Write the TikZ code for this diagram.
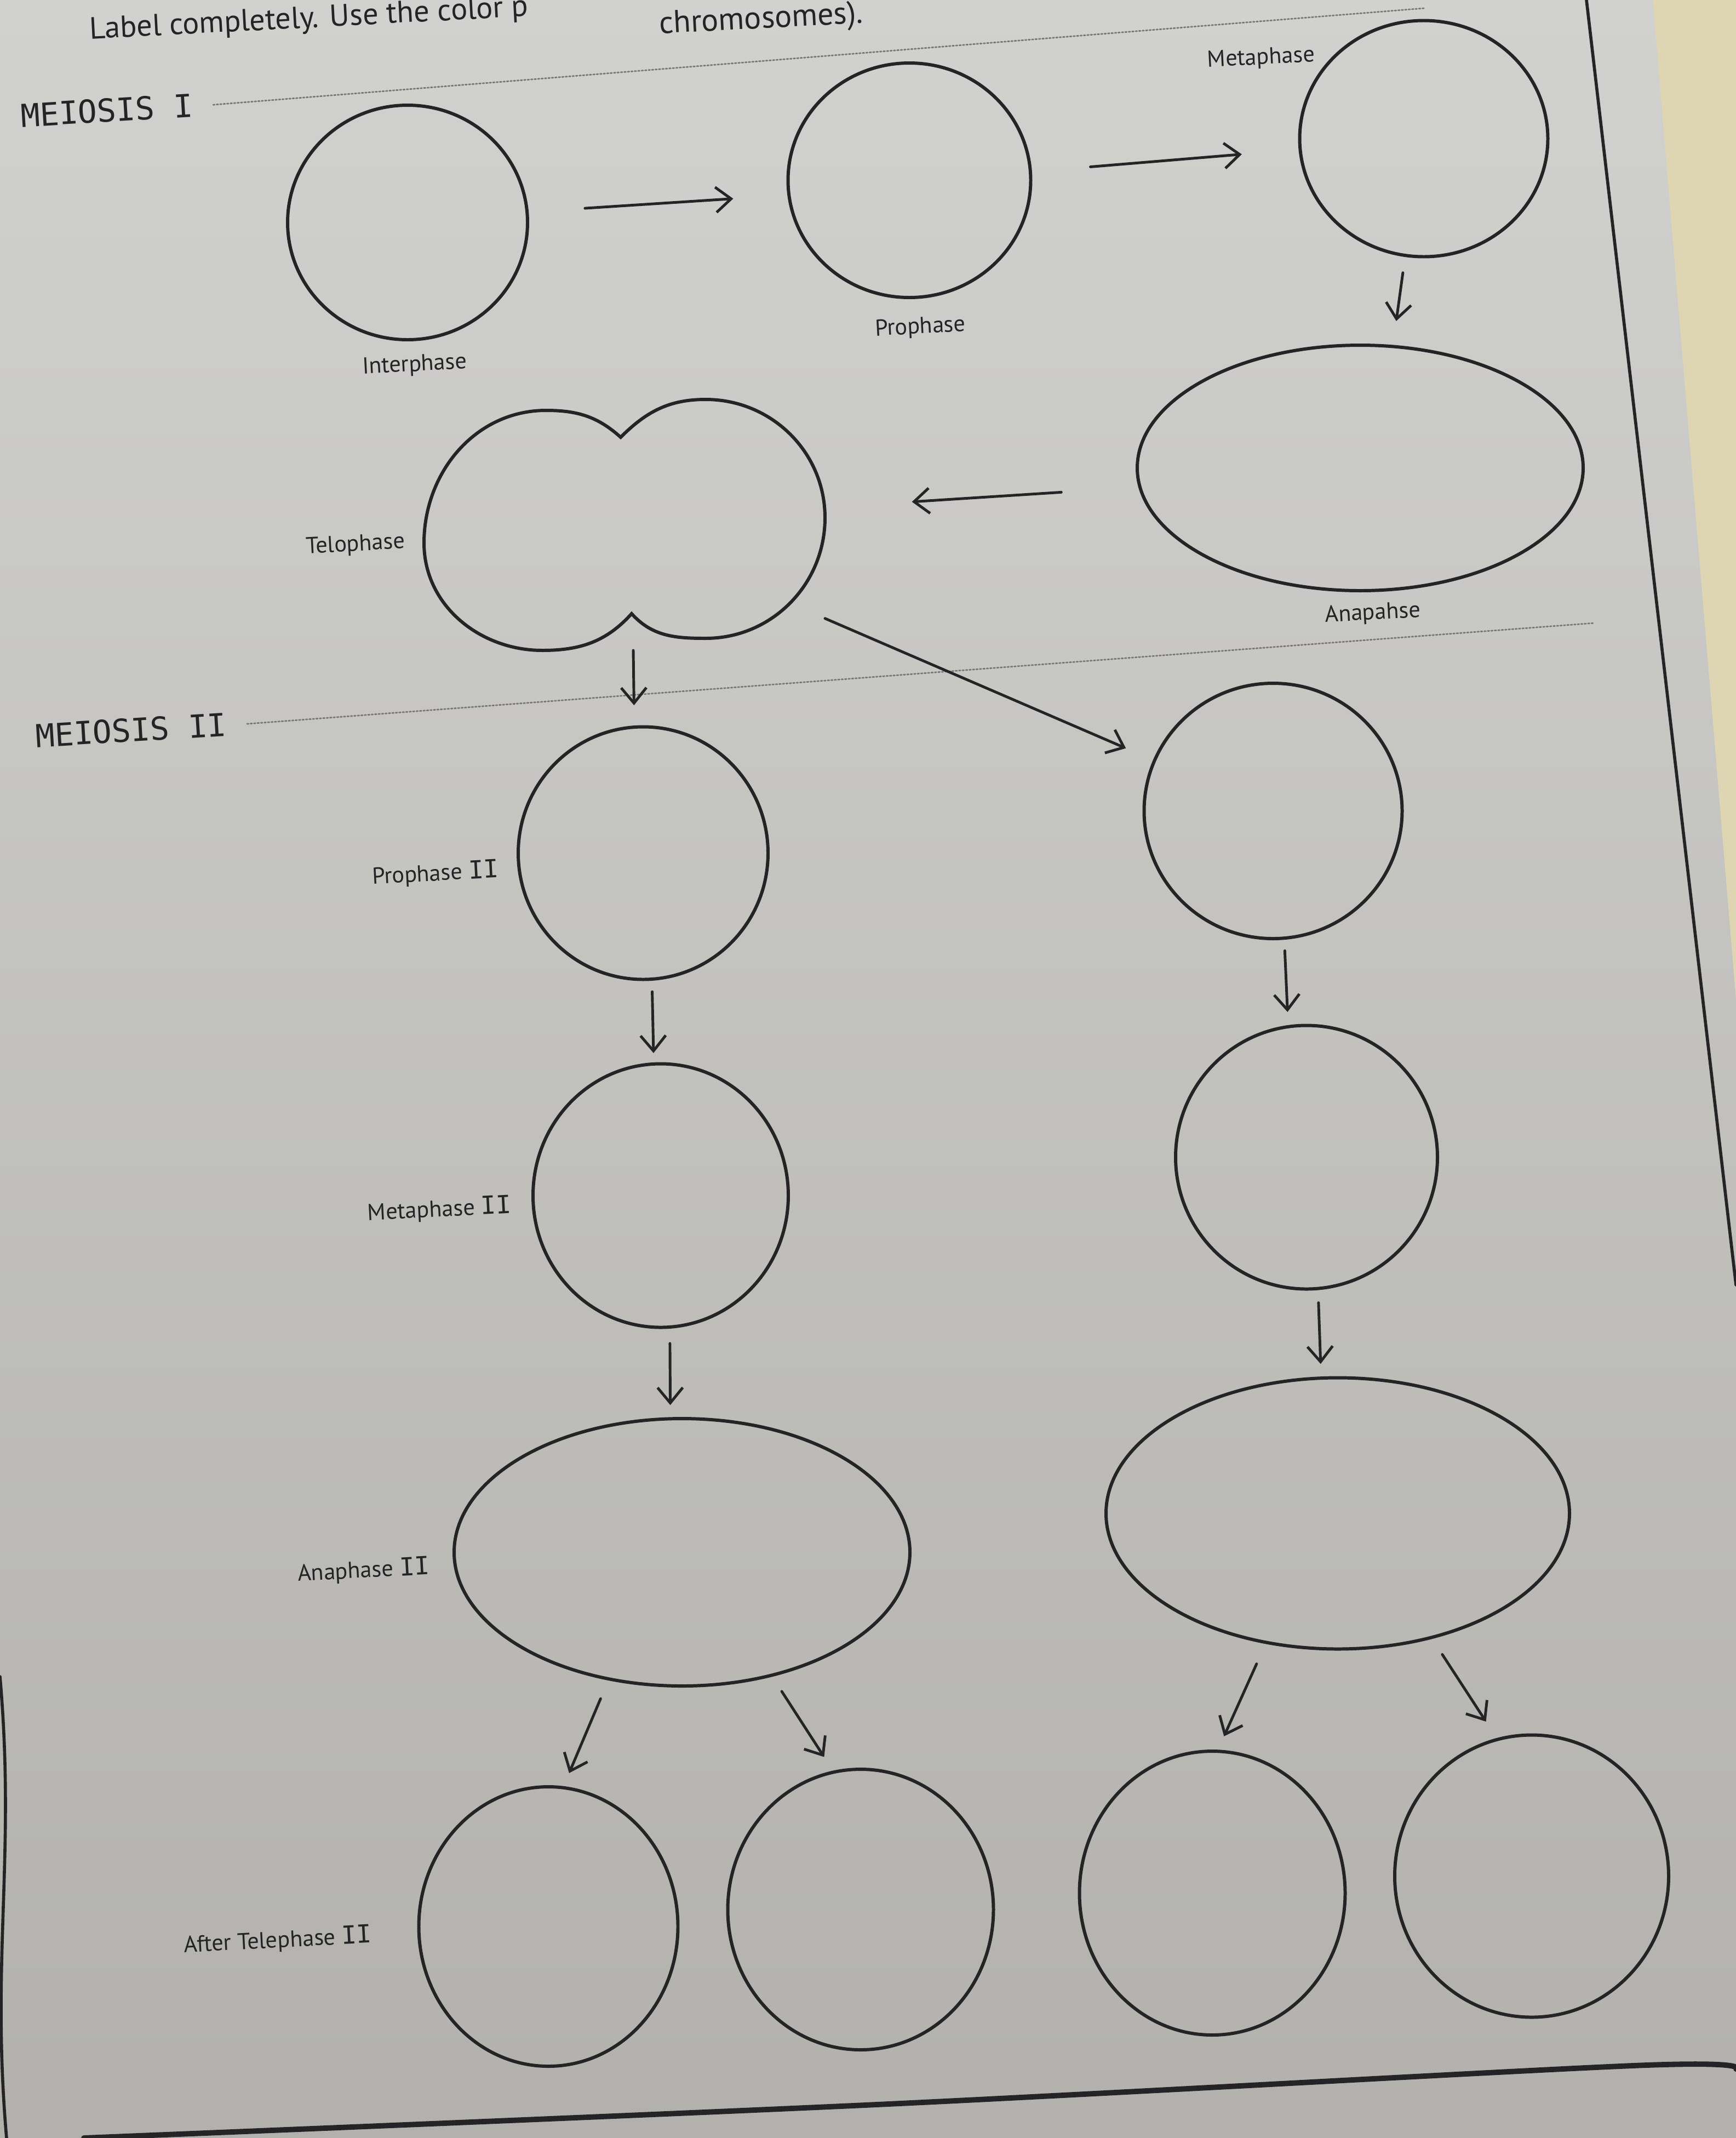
\documentclass[tikz,border=0pt]{standalone}
\usepackage{fontspec}
\setmainfont{PT Sans}
\newfontfamily\serifI{DejaVu Sans Mono}
\usetikzlibrary{shapes.geometric,arrows.meta}

\definecolor{papertop}{RGB}{209,209,207}
\definecolor{paperbot}{RGB}{178,177,173}
\definecolor{wall}{RGB}{222,213,178}
\definecolor{ink}{RGB}{36,36,38}
\definecolor{dots}{RGB}{120,120,118}

\newcommand{\two}{{\serifI\fontsize{13}{15}\selectfont II}}

\begin{document}
\begin{tikzpicture}[>={Straight Barb[length=2.8mm,width=4.6mm]}, line cap=round,
	cell/.style={ellipse, draw=ink, line width=1.7pt, inner sep=0pt, outer sep=0pt},
	hidden/.style={rectangle, inner sep=0pt, outer sep=0pt},
	arr/.style={->, draw=ink, line width=1.4pt},
	lbl/.style={text=ink, font=\fontsize{12}{14}\selectfont, rotate=3},
	head/.style={text=ink, font=\serifI\fontsize{16.5}{20}\selectfont, rotate=3.5},
	guide/.style={dots, line width=0.8pt, densely dotted}]
	\useasboundingbox (0,0) rectangle (31.69,-39.02);
	\clip (0,0) rectangle (31.69,-39.02);
	% paper, wall and page frame
	\shade[top color=papertop, bottom color=paperbot] (0,0) rectangle (31.69,-39.02);
	\fill[wall] (30.17,0) -- (31.69,0) -- (31.69,-18.24) -- cycle;
	\draw[ink, line width=1.6pt] (28.96,0) -- (31.69,-23.45);
	\draw[ink, line width=1.6pt] (0,-30.6) to[out=-85,in=95] (0.12,-39.02);
	\draw[ink, line width=2.8pt] plot[smooth] coordinates {(1.53,-39.02) (16.0,-38.41) (29.8,-37.70) (31.69,-37.76)};

	% instructions, cut off at the top of the photo
	\node[anchor=base west, text=ink, font=\fontsize{16}{19}\selectfont, rotate=3] (task) at (1.52,-0.72) {Label completely. Use the color p};
	\node[anchor=base west, text=ink, font=\fontsize{16.5}{19}\selectfont, rotate=3] (task2) at (11.92,-0.62) {chromosomes).};

	% meiosis I
	\node[head, anchor=base west] (m1) at (0.27,-2.33) {MEIOSIS I};
	\draw[guide] ([xshift=0.25cm]m1.east) -- (26.0,-0.15);
	\node[cell, minimum width=4.38cm, minimum height=4.28cm] (inter) at (7.44,-4.06) {};
	\node[cell, minimum width=4.43cm, minimum height=4.28cm] (pro) at (16.60,-3.29) {};
	\node[cell, minimum width=4.53cm, minimum height=4.31cm] (meta) at (25.99,-2.53) {};
	\node[cell, minimum width=8.14cm, minimum height=4.48cm] (ana) at (24.83,-8.54) {};
	\node[hidden, minimum width=7.32cm, minimum height=4.58cm] (telo) at (11.40,-9.58) {};
	\draw[ink, line width=1.7pt] (11.33,-7.98) to[out=138,in=0] (9.97,-7.49) to[out=180,in=90] (7.74,-9.91)
		to[out=-90,in=180] (9.90,-11.87) to[out=0,in=-132] (11.53,-11.20) to[out=-48,in=180] (12.88,-11.65)
		to[out=0,in=-90] (15.06,-9.45) to[out=90,in=0] (12.88,-7.29) to[out=180,in=45] cycle;
	\node[lbl] (l-inter) at (7.57,-6.67) {Interphase};
	\node[lbl] (l-pro) at (16.80,-5.98) {Prophase};
	\node[lbl] (l-meta) at (23.02,-1.07) {Metaphase};
	\node[lbl] (l-ana) at (25.06,-11.20) {Anapahse};
	\node[lbl] (l-telo) at (6.49,-9.95) {Telophase};
	\draw[arr, shorten <=1.06cm, shorten >=1.02cm] (inter.5) -- (pro.187);
	\draw[arr, shorten <=1.10cm, shorten >=1.07cm] (pro.4) -- (meta.185);
	\draw[arr, shorten <=0.32cm, shorten >=0.47cm] (meta.261) -- (ana.75);
	\draw[arr, shorten <=1.44cm, shorten >=1.59cm] (ana.185) -- (telo.5);

	% meiosis II
	\node[head, anchor=base west] (m2) at (0.54,-13.65) {MEIOSIS II};
	\draw[guide] ([xshift=0.25cm]m2.east) -- (29.11,-11.37);
	\node[cell, minimum width=4.56cm, minimum height=4.61cm] (proII) at (11.74,-15.57) {};
	\node[cell, minimum width=4.71cm, minimum height=4.66cm] (proIIb) at (23.24,-14.80) {};
	\node[cell, minimum width=4.66cm, minimum height=4.81cm] (metaII) at (12.06,-21.82) {};
	\node[cell, minimum width=4.78cm, minimum height=4.81cm] (metaIIb) at (23.85,-21.12) {};
	\node[cell, minimum width=8.32cm, minimum height=4.88cm] (anaII) at (12.45,-28.33) {};
	\node[cell, minimum width=8.46cm, minimum height=4.95cm] (anaIIb) at (24.42,-27.62) {};
	\node[cell, minimum width=4.73cm, minimum height=5.10cm] (d1) at (10.01,-35.16) {};
	\node[cell, minimum width=4.85cm, minimum height=5.12cm] (d2) at (15.71,-34.85) {};
	\node[cell, minimum width=4.85cm, minimum height=5.18cm] (d3) at (22.13,-34.55) {};
	\node[cell, minimum width=5.00cm, minimum height=5.15cm] (d4) at (27.96,-34.24) {};
	\node[lbl] (l-proII) at (7.95,-15.95) {Prophase \two};
	\node[lbl] (l-metaII) at (8.02,-22.08) {Metaphase \two};
	\node[lbl] (l-anaII) at (6.64,-28.67) {Anaphase \two};
	\node[lbl] (l-after) at (5.07,-35.42) {After Telephase \two};
	\draw[arr, shorten >=0.40cm] (telo.274) -- (proII.94);
	\draw[arr, shorten >=0.57cm] (telo.335) -- (proIIb.157);
	\draw[arr, shorten <=0.23cm, shorten >=0.20cm] (proII.274) -- (metaII.93);
	\draw[arr, shorten <=0.23cm, shorten >=0.27cm] (proIIb.275) -- (metaIIb.98);
	\draw[arr, shorten <=0.30cm, shorten >=0.25cm] (metaII.274) -- (anaII.95);
	\draw[arr, shorten <=0.26cm, shorten >=0.26cm] (metaIIb.275) -- (anaIIb.97);
	\draw[arr, shorten <=0.39cm, shorten >=0.29cm] (anaII.240) -- (d1.84);
	\draw[arr, shorten <=0.35cm, shorten >=0.33cm] (anaII.306) -- (d2.101);
	\draw[arr, shorten <=0.43cm, shorten >=0.30cm] (anaIIb.241) -- (d3.88);
	\draw[arr, shorten <=0.37cm, shorten >=0.39cm] (anaIIb.307) -- (d4.104);
\end{tikzpicture}
\end{document}
